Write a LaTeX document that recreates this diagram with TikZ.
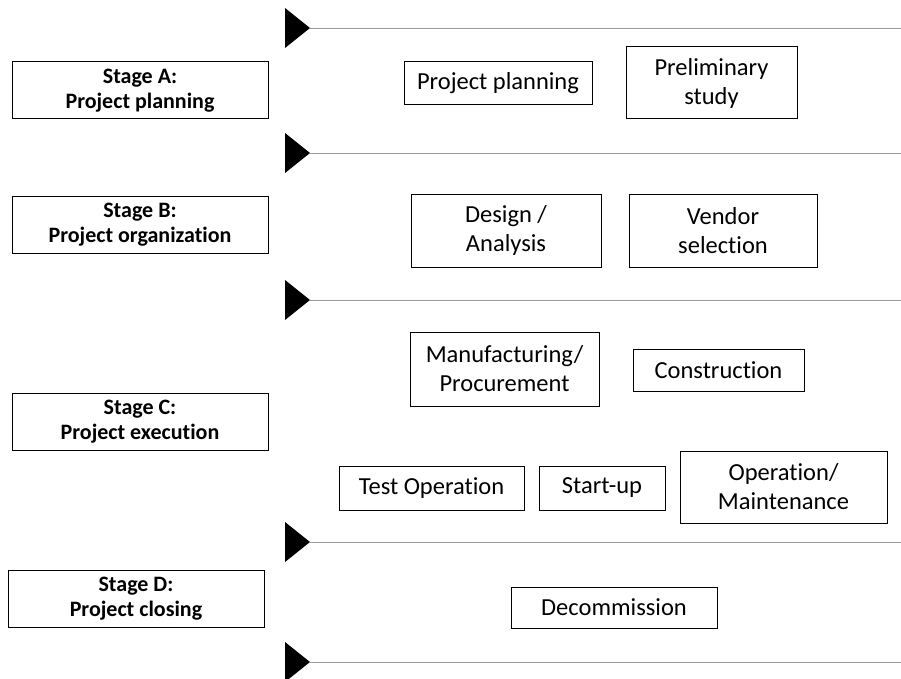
\documentclass[tikz,border=0pt]{standalone}
\usepackage{fontspec}
\usepackage{tikz}
\setmainfont{Carlito}[Ligatures=NoCommon]
\newcommand{\stagefont}{\bfseries\fontsize{22}{25}\selectfont}
\newcommand{\taskfont}{\fontsize{24.5}{29}\selectfont}

\begin{document}
\begin{tikzpicture}[x=1pt,y=-1pt,
    stagebox/.style={draw,line width=1pt,font=\stagefont,align=center,
      minimum width=256pt,minimum height=57pt,inner sep=0pt},
    taskbox/.style={draw,line width=1pt,font=\taskfont,align=center,inner sep=0pt}]
    \useasboundingbox (0,0) rectangle (901,679);

    % Stage markers and separator lines
    \foreach \y in {28,153,300,542,662} {
        \fill[black] (285,\y-20) -- (310,\y) -- (285,\y+20) -- cycle;
        \draw[gray!80,line width=0.8pt] (310,\y) -- (901,\y);
    }

    % Stages
    \node[stagebox] (stageA) at (140,90.5) {Stage A:\\Project planning};
    \node[stagebox] (stageB) at (140,225) {Stage B:\\Project organization};
    \node[stagebox] (stageC) at (140,422) {Stage C:\\Project execution};
    \node[stagebox] (stageD) at (136,598.5) {Stage D:\\Project closing};

    % Stage A tasks
    \node[taskbox,minimum width=188pt,minimum height=43pt] (planning) at (498,83.5) {Project planning};
    \node[taskbox,minimum width=171pt,minimum height=72pt] (prelim) at (711.5,83) {Preliminary\\study};

    % Stage B tasks
    \node[taskbox,minimum width=190pt,minimum height=73pt] (design) at (506,230.5) {Design /\\Analysis};
    \node[taskbox,minimum width=188pt,minimum height=73pt] (vendor) at (723,230.5) {Vendor\\selection};

    % Stage C tasks
    \node[taskbox,minimum width=189pt,minimum height=74pt] (manuf) at (504.5,369) {Manufacturing/\\Procurement};
    \node[taskbox,minimum width=171pt,minimum height=42pt] (constr) at (718.5,370) {Construction};
    \node[taskbox,minimum width=185pt,minimum height=44pt] (testop) at (431.5,488) {Test Operation};
    \node[taskbox,minimum width=126pt,minimum height=44pt] (startup) at (602,488) {Start-up};
    \node[taskbox,minimum width=207pt,minimum height=72pt] (operation) at (783.5,487) {Operation/\\Maintenance};

    % Stage D tasks
    \node[taskbox,minimum width=206pt,minimum height=41pt] (decom) at (614,607.5) {Decommission};
\end{tikzpicture}
\end{document}
